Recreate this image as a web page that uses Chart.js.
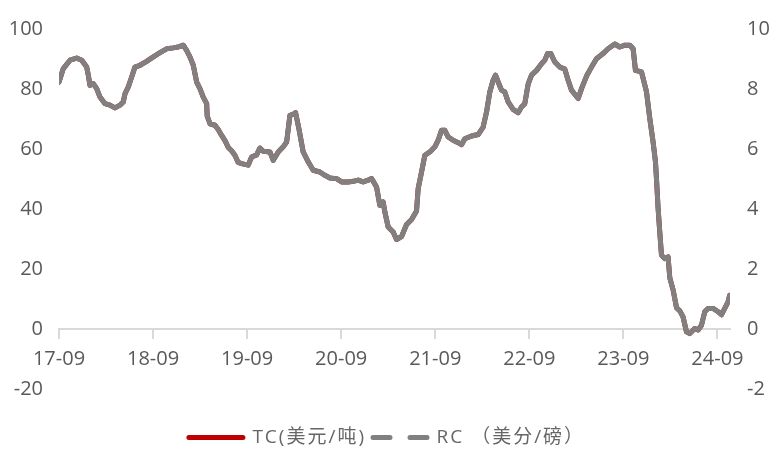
<!DOCTYPE html>
<html>
<head>
<meta charset="utf-8">
<script src="https://cdn.jsdelivr.net/npm/chart.js@4/dist/chart.umd.min.js"></script>
<style>
  html, body { margin: 0; padding: 0; background: #ffffff; }
  #wrap { width: 774px; height: 451px; }
</style>
</head>
<body>
<div id="wrap"><canvas id="c" width="774" height="451"></canvas></div>
<script>
// ---- data (months since 2017-09) ----
const months = [0,0.55,1.4,2.26,2.9,3.53,3.74,3.95,4.37,4.81,5.23,5.87,6.5,7.14,7.78,8.2,8.42,8.84,9.27,9.69,10.33,11.18,12.03,12.88,13.73,14.58,15.21,15.85,16.28,16.7,17.13,17.56,17.98,18.4,18.84,18.9,19.26,19.9,20.31,20.75,21.17,21.59,22.02,22.44,22.86,23.3,24.14,24.57,25.21,25.63,26.05,26.91,27.33,27.97,28.6,29.04,29.46,29.84,30.18,30.6,31.15,31.79,32.43,33.28,33.92,34.56,35.41,36.05,36.89,37.53,38.17,38.8,39.44,39.88,40.51,40.93,41.35,41.57,41.99,42.63,43.06,43.7,44.34,44.98,45.61,45.82,46.25,46.67,47.31,47.95,48.37,48.8,49.22,49.64,50.28,50.92,51.35,51.77,52.63,53.47,54.11,54.54,54.96,55.38,55.69,56.11,56.45,56.87,57.3,57.93,58.57,59,59.42,59.85,60.28,60.92,61.56,61.98,62.32,62.74,63.25,63.89,64.53,64.95,65.38,66.23,66.66,67.3,67.93,68.57,69.41,70.05,70.9,71.54,72.18,72.82,73.24,73.54,74.31,74.95,75.37,75.79,76.09,76.22,76.43,76.64,76.86,77.28,77.7,77.92,78.34,78.78,79.2,79.61,80.05,80.47,81.1,81.53,81.96,82.38,82.8,83.44,84.08,84.51,84.93,85.35,85.56];

const tcValues = [82.3,86.8,89.6,90.3,89.6,87.3,84.6,81.2,81.8,80.1,77.3,75.1,74.6,73.7,74.6,75.7,78.4,80.7,84,87.3,87.9,89.2,90.7,92.1,93.4,93.7,94,94.6,92.9,90.7,87.9,82.3,80.1,77.3,75.1,71,68.4,67.9,66.5,64.5,62.8,60.5,59.4,57.9,55.5,55.1,54.6,57.3,58,60.3,59.2,59,56.2,59,60.7,62.3,71.2,71.5,72.1,66.8,59,55.7,52.9,52.3,51.2,50.3,50.1,49,49,49.2,49.6,49,49.6,50.1,47.3,41.2,42.3,39,34,32.3,29.8,30.8,34.8,36.5,39.3,46.8,52.3,57.9,59,60.7,62.9,66.2,66.2,64,62.9,62.1,61.4,63.4,64.3,64.8,67.3,72.3,79,82.9,84.6,81.8,79.6,79,75.7,73.2,72.1,74,75.1,81.6,84.6,86.2,88.4,89.6,91.8,91.8,89,87.3,86.6,82.9,79.6,76.8,80.1,84.3,87.3,90.1,91.8,93.4,95,94,94.6,94.6,93.4,86.2,85.7,79,70.1,62.3,55.7,50.1,40.1,32.3,24.6,23.4,24,17,13,7,6,4,-1,-1.6,0.1,-0.4,1.2,5.7,6.8,6.8,5.7,4.7,6.8,9,11.2];

const rcValues = [8.23,8.68,8.96,9.03,8.96,8.73,8.46,8.12,8.18,8.01,7.73,7.51,7.46,7.37,7.46,7.57,7.84,8.07,8.4,8.73,8.79,8.92,9.07,9.21,9.34,9.37,9.4,9.46,9.29,9.07,8.79,8.23,8.01,7.73,7.51,7.1,6.84,6.79,6.65,6.45,6.28,6.05,5.94,5.79,5.55,5.51,5.46,5.73,5.8,6.03,5.92,5.9,5.62,5.9,6.07,6.23,7.12,7.15,7.21,6.68,5.9,5.57,5.29,5.23,5.12,5.03,5.01,4.9,4.9,4.92,4.96,4.9,4.96,5.01,4.73,4.12,4.23,3.9,3.4,3.23,2.98,3.08,3.48,3.65,3.93,4.68,5.23,5.79,5.9,6.07,6.29,6.62,6.62,6.4,6.29,6.21,6.14,6.34,6.43,6.48,6.73,7.23,7.9,8.29,8.46,8.18,7.96,7.9,7.57,7.32,7.21,7.4,7.51,8.16,8.46,8.62,8.84,8.96,9.18,9.18,8.9,8.73,8.66,8.29,7.96,7.68,8.01,8.43,8.73,9.01,9.18,9.34,9.5,9.4,9.46,9.46,9.34,8.62,8.57,7.9,7.01,6.23,5.57,5.01,4.01,3.23,2.46,2.34,2.4,1.7,1.3,0.7,0.6,0.4,-0.1,-0.16,0.01,-0.04,0.12,0.57,0.68,0.68,0.57,0.47,0.68,0.9,1.12];

const tickPositions = [0,12,24,36,48,60,72,84];
const tickLabels = ['17-09','18-09','19-09','20-09','21-09','22-09','23-09','24-09'];
const seriesNames = ['TC(美元/吨)', 'RC （美分/磅）'];

// ---- chart ----
const tcData = months.map((m, i) => ({ x: m, y: tcValues[i] }));
const rcData = months.map((m, i) => ({ x: m, y: rcValues[i] }));

const tickFont = { family: '"Open Sans", "Noto Sans CJK SC", sans-serif', size: 20 };
const legendFont = { family: '"Open Sans", "Noto Sans CJK SC", sans-serif', size: 19 };
const RED = '#c00000';
const GREY = '#808080';

// widen legend text spacing (only the legend box)
const legendSpacing = {
  id: 'legendSpacing',
  beforeUpdate(chart) {
    const lg = chart.legend;
    if (!lg || lg._spaced) return;
    lg._spaced = true;
    const wrap = (name) => {
      const orig = lg[name];
      lg[name] = function (...args) {
        const ctx = this.ctx;
        ctx.save();
        ctx.letterSpacing = '2px';
        const r = orig.apply(this, args);
        ctx.restore();
        return r;
      };
    };
    wrap('fit');
    wrap('draw');
  }
};

new Chart(document.getElementById('c'), {
  type: 'line',
  data: {
    datasets: [
      { label: seriesNames[0], data: tcData, yAxisID: 'y', borderColor: RED, backgroundColor: RED,
        borderWidth: 5, pointRadius: 0, tension: 0, borderCapStyle: 'round', borderJoinStyle: 'round', order: 2 },
      { label: seriesNames[1], data: rcData, yAxisID: 'y1', borderColor: GREY, backgroundColor: GREY,
        borderWidth: 5, pointRadius: 0, tension: 0, borderCapStyle: 'round', borderJoinStyle: 'round', order: 1 }
    ]
  },
  plugins: [legendSpacing],
  options: {
    responsive: false,
    animation: false,
    events: [],
    layout: { padding: { top: 26, bottom: -6, left: 0, right: 0 } },
    scales: {
      x: {
        type: 'linear',
        position: { y: 0 },
        min: 0, max: 85.6,
        afterBuildTicks: (s) => { s.ticks = tickPositions.map(v => ({ value: v })); },
        ticks: {
          autoSkip: false, maxRotation: 0, padding: 9, color: '#595959', font: tickFont,
          callback: (v) => { const i = tickPositions.indexOf(v); return i >= 0 ? tickLabels[i] : ''; }
        },
        grid: { drawOnChartArea: false, drawTicks: true, tickLength: 9, color: '#d9d9d9', lineWidth: 2 },
        border: { display: true, color: '#d9d9d9', width: 2 }
      },
      y: {
        position: 'left',
        min: -20, max: 100,
        ticks: { stepSize: 20, padding: 16, color: '#595959', font: tickFont },
        grid: { display: false, drawTicks: false },
        border: { display: false },
        afterFit: (s) => { s.width = 59; }
      },
      y1: {
        position: 'right',
        min: -2, max: 10,
        ticks: { stepSize: 2, padding: 17, color: '#595959', font: tickFont },
        grid: { display: false, drawTicks: false },
        border: { display: false },
        afterFit: (s) => { s.width = 44; }
      }
    },
    plugins: {
      tooltip: { enabled: false },
      legend: {
        position: 'bottom',
        align: 'center',
        title: { display: true, text: '', padding: { top: 31, bottom: 0 }, font: { size: 1 } },
        labels: {
          usePointStyle: true,
          pointStyleWidth: 54,
          padding: 7,
          color: '#595959',
          font: legendFont,
          generateLabels: () => [
            { text: seriesNames[0], strokeStyle: RED, fillStyle: RED, lineWidth: 5, lineCap: 'round',
              lineDash: [], pointStyle: 'line', datasetIndex: 0, hidden: false },
            { text: seriesNames[1], strokeStyle: GREY, fillStyle: GREY, lineWidth: 5, lineCap: 'round',
              lineDash: [17, 20], pointStyle: 'line', datasetIndex: 1, hidden: false }
          ]
        }
      }
    }
  }
});
</script>
</body>
</html>
